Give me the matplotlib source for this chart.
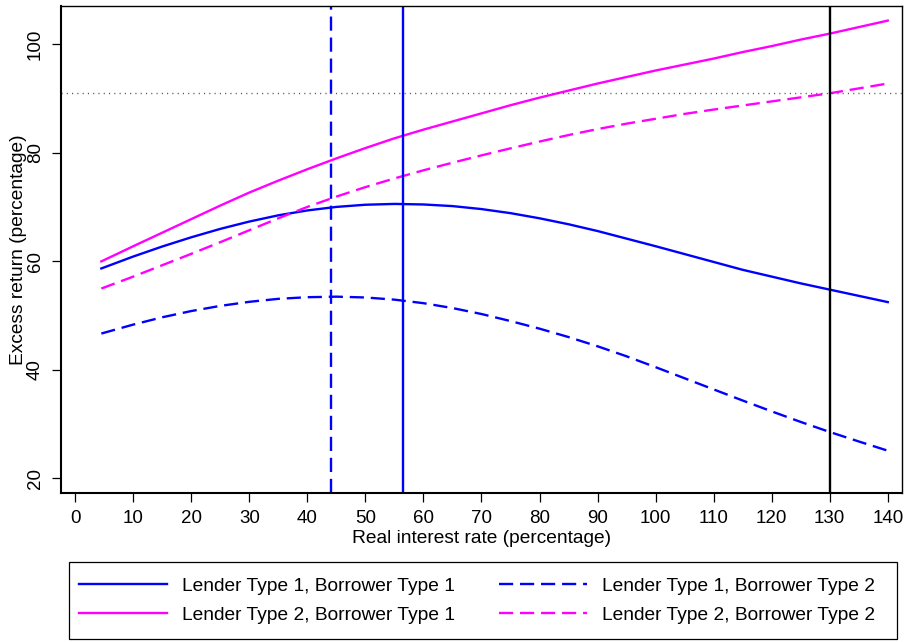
import numpy as np
import matplotlib
matplotlib.use("Agg")
import matplotlib.pyplot as plt
from matplotlib.patches import Rectangle

plt.rcParams['font.family'] = ['Liberation Sans', 'DejaVu Sans']
plt.rcParams['font.size'] = 13.8

# Real interest rate grid (percentage)
rate = [4.5, 10, 15, 20, 25, 30, 35, 40, 45, 50, 55, 60, 65, 70,
        75, 80, 85, 90, 95, 100, 105, 110, 115, 120, 125, 130, 135, 140]

# Excess return (percentage) for each lender/borrower pairing
l1_b1 = [58.7, 60.9, 62.75, 64.45, 66.0, 67.35, 68.5, 69.4, 70.05, 70.45, 70.6, 70.5, 70.2, 69.65,
         68.9, 67.95, 66.85, 65.6, 64.2, 62.8, 61.35, 59.9, 58.45, 57.2, 55.95, 54.8, 53.65, 52.5]
l1_b2 = [46.7, 48.35, 49.7, 50.85, 51.8, 52.55, 53.1, 53.4, 53.5, 53.35, 52.95, 52.3, 51.4, 50.3,
         49.0, 47.6, 46.05, 44.35, 42.5, 40.5, 38.45, 36.4, 34.35, 32.35, 30.4, 28.55, 26.8, 25.1]
l2_b1 = [60.0, 62.8, 65.3, 67.8, 70.3, 72.7, 74.9, 77.0, 79.0, 80.9, 82.7, 84.3, 85.8, 87.3,
         88.8, 90.2, 91.5, 92.8, 94.0, 95.2, 96.3, 97.4, 98.6, 99.7, 100.9, 102.0, 103.2, 104.4]
l2_b2 = [55.0, 57.2, 59.3, 61.4, 63.55, 65.75, 67.95, 70.05, 71.95, 73.7, 75.3, 76.8, 78.2, 79.55,
         80.85, 82.1, 83.3, 84.4, 85.4, 86.3, 87.2, 88.0, 88.75, 89.5, 90.25, 91.0, 91.9, 92.8]

# reference lines
peak_l1b2 = 44.0
peak_l1b1 = 56.4
rate_cut = 130.0
return_cut = 91.0

blue = '#0000ff'
magenta = '#ff00ff'
dash = (6.0, 2.9)
lw = 1.7

fig = plt.figure(figsize=(9.06, 6.42), dpi=100)
ax = fig.add_axes([0.0670, 0.2321, 0.9289, 0.7586])

ax.plot(rate, l1_b1, color=blue, lw=lw, label='Lender Type 1, Borrower Type 1')
ax.plot(rate, l2_b1, color=magenta, lw=lw, label='Lender Type 2, Borrower Type 1')
ax.plot(rate, l1_b2, color=blue, lw=lw, dashes=dash, label='Lender Type 1, Borrower Type 2')
ax.plot(rate, l2_b2, color=magenta, lw=lw, dashes=dash, label='Lender Type 2, Borrower Type 2')

ax.axvline(peak_l1b2, color=blue, lw=lw, dashes=dash)
ax.axvline(peak_l1b1, color=blue, lw=lw)
ax.axvline(rate_cut, color='black', lw=lw)
ax.axhline(return_cut, color='#555555', lw=1.0, dashes=(0.8, 3))

ax.set_xlim(-2.5, 142.5)
ax.set_ylim(17.3, 107.1)
ax.set_xticks(np.arange(0, 141, 10))
ax.set_yticks(np.arange(20, 101, 20))
ax.tick_params(axis='both', labelsize=13.5)
ax.tick_params(axis='x', length=6.5, width=0.9, pad=6)
ax.tick_params(axis='y', length=6.5, width=0.9, pad=5.5)
for lab in ax.get_yticklabels():
    lab.set_rotation(90)
    lab.set_va('center')

for side in ['left', 'bottom']:
    ax.spines[side].set_linewidth(1.5)
for side in ['top', 'right']:
    ax.spines[side].set_linewidth(1.0)

ax.set_xlabel('Real interest rate (percentage)')
ax.set_ylabel('Excess return (percentage)')
ax.xaxis.set_label_coords(0.5, -0.075)
ax.yaxis.set_label_coords(-0.040, 0.5)

# legend sits in its own box under the axes
fig.patches.append(Rectangle((69 / 906, 1 - 639.3 / 642), 827.5 / 906, 77 / 642,
                             transform=fig.transFigure, fill=False,
                             edgecolor='black', lw=0.9))
fig.legend(loc='center left', ncol=2, bbox_to_anchor=(79 / 906, 1 - 600.7 / 642),
           frameon=False, handlelength=4.58, handletextpad=0.8,
           columnspacing=2.28, labelspacing=0.61, borderpad=0, borderaxespad=0)

fig.savefig('out.png', dpi=100)
